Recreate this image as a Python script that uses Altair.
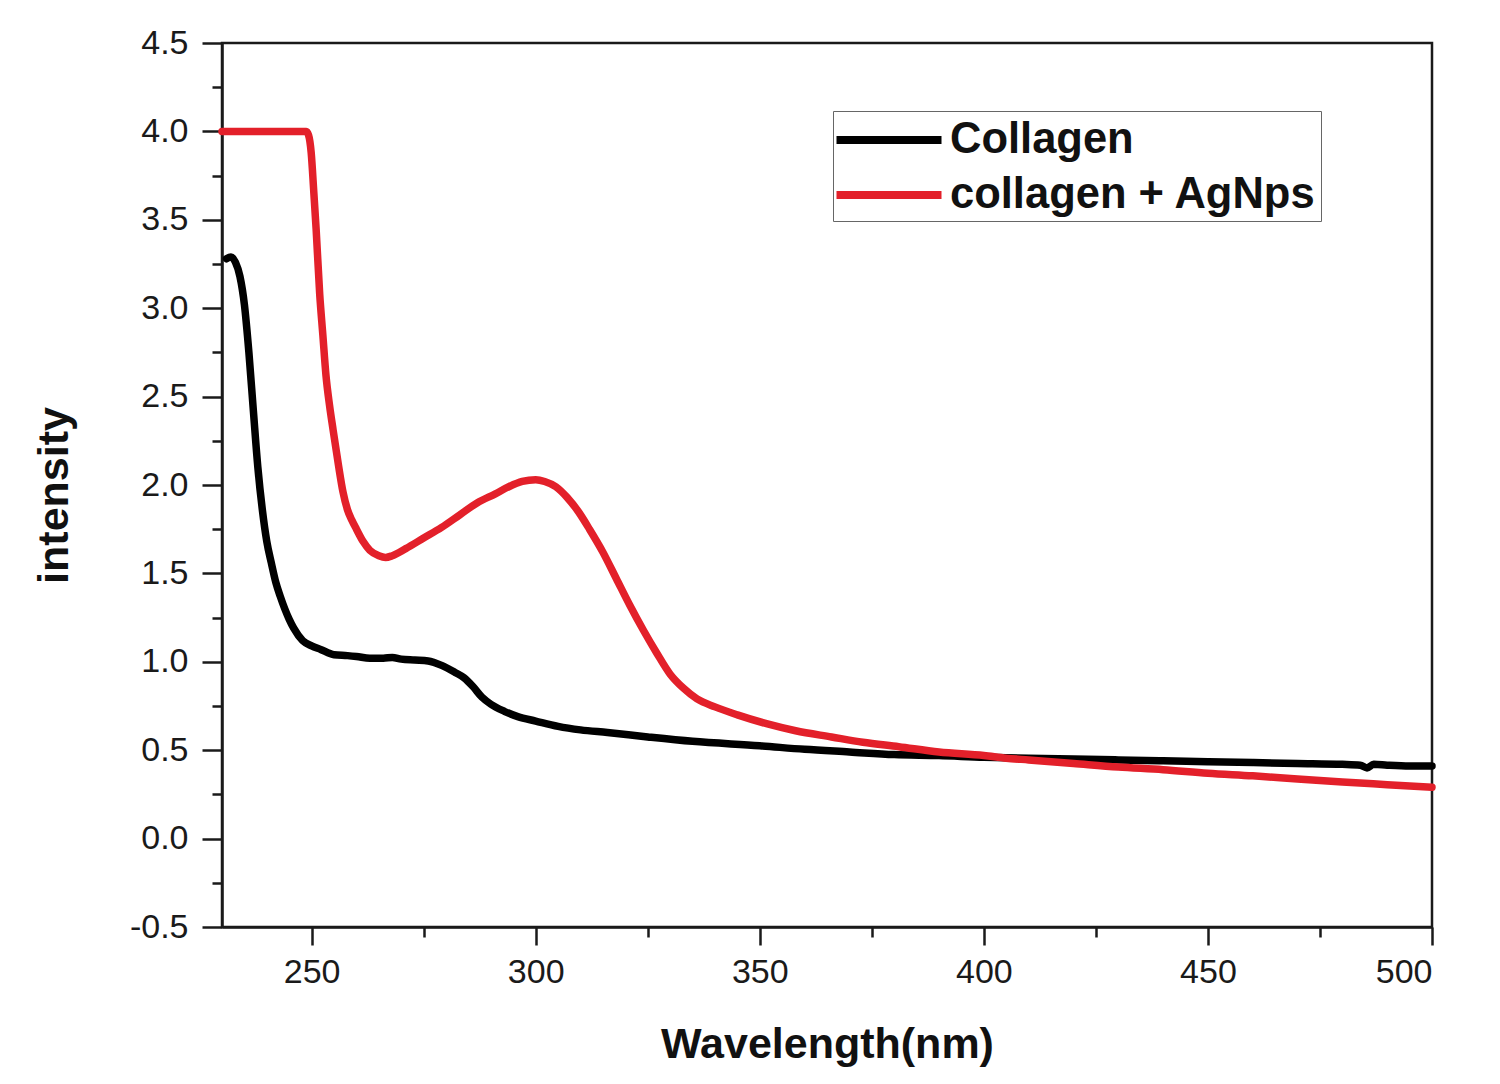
import altair as alt
import pandas as pd

# Collagen (black)
collagen_nm = [231, 232, 233, 234, 235, 236, 237, 238, 239, 240, 241, 242, 243, 244, 245, 246, 248, 250,
               252, 255, 258, 260, 263, 266, 268, 270, 273, 276, 279, 282, 284, 286, 288, 290, 293, 296,
               300, 305, 310, 316, 325, 335, 350, 360, 370, 380, 390, 400, 405, 410, 420, 430, 440, 450,
               460, 470, 480, 484, 485.5, 487, 490, 495, 500]
collagen_val = [3.28, 3.29, 3.26, 3.18, 3.02, 2.75, 2.42, 2.10, 1.86, 1.68, 1.56, 1.45, 1.37, 1.30, 1.24, 1.19,
                1.12, 1.09, 1.07, 1.04, 1.035, 1.03, 1.02, 1.02, 1.025, 1.015, 1.01, 1.005, 0.98, 0.94, 0.91,
                0.86, 0.80, 0.76, 0.72, 0.69, 0.665, 0.635, 0.615, 0.60, 0.575, 0.55, 0.525, 0.505, 0.49,
                0.475, 0.47, 0.46, 0.457, 0.455, 0.45, 0.445, 0.44, 0.435, 0.43, 0.425, 0.42, 0.415, 0.40,
                0.42, 0.415, 0.41, 0.41]

# collagen + AgNps (red)
agnp_nm = [230, 240, 248.8, 249.3, 249.9, 250.5, 251, 251.8, 252.5, 253.2, 254, 254.8, 256, 257, 258, 259,
           260, 261.5, 263, 265, 266.5, 268, 271, 275, 279, 283, 287, 291, 294, 297, 300, 302, 304.5, 307,
           309.5, 312, 315, 318, 321, 324, 327, 330, 333, 336, 340, 345, 351.5, 358, 366, 373, 381, 390, 400,
           405, 410, 420, 430, 440, 450, 460, 470, 480, 490, 500]
agnp_val = [4.0, 4.0, 4.0, 3.98, 3.88, 3.65, 3.45, 3.08, 2.85, 2.62, 2.45, 2.31, 2.11, 1.96, 1.86, 1.80,
            1.75, 1.68, 1.63, 1.60, 1.59, 1.60, 1.64, 1.70, 1.76, 1.83, 1.90, 1.95, 1.99, 2.02, 2.03, 2.02,
            1.99, 1.93, 1.85, 1.75, 1.62, 1.47, 1.32, 1.18, 1.05, 0.93, 0.85, 0.79, 0.745, 0.70, 0.65, 0.61,
            0.575, 0.545, 0.52, 0.49, 0.47, 0.455, 0.445, 0.425, 0.405, 0.39, 0.37, 0.355, 0.337, 0.32,
            0.305, 0.29]

series_names = ["Collagen", "collagen + AgNps"]
series_colors = ["#000000", "#E3202A"]

x_ticks = [250, 275, 300, 325, 350, 375, 400, 425, 450, 475, 500]
y_ticks = [-0.5, -0.25, 0.0, 0.25, 0.5, 0.75, 1.0, 1.25, 1.5, 1.75, 2.0, 2.25, 2.5, 2.75,
           3.0, 3.25, 3.5, 3.75, 4.0, 4.25, 4.5]

df = pd.concat([
    pd.DataFrame({"wl": collagen_nm, "val": collagen_val, "series": series_names[0], "order": range(len(collagen_nm))}),
    pd.DataFrame({"wl": agnp_nm, "val": agnp_val, "series": series_names[1], "order": range(len(agnp_nm))}),
])

FONT = "Liberation Sans"

chart = alt.Chart(df).mark_line(strokeWidth=7.5, strokeJoin="round", strokeCap="round",
                                interpolate="monotone").encode(
    x=alt.X("wl:Q", scale=alt.Scale(domain=[230, 500], nice=False, zero=False),
            axis=alt.Axis(title="Wavelength(nm)", values=x_ticks, grid=False,
                          labelExpr="datum.value % 50 === 0 ? datum.label : ''",
                          labelOverlap=False, labelFontSize=34, labelFont=FONT, labelColor="#1a1a1a",
                          labelPadding=10,
                          tickSize={"condition": {"test": "datum.value % 50 !== 0", "value": 10}, "value": 18},
                          tickWidth=2.5, tickColor="#1a1a1a", domainWidth=2.5, domainColor="#1a1a1a",
                          titleFontSize=43, titleFont=FONT, titleFontWeight="bold", titleColor="#111",
                          titlePadding=34)),
    y=alt.Y("val:Q", scale=alt.Scale(domain=[-0.5, 4.5], nice=False, zero=False),
            axis=alt.Axis(title="intensity", values=y_ticks, grid=False,
                          labelExpr="datum.value % 0.5 === 0 ? (datum.value < 0 ? '-' + format(-datum.value, '.1f') : format(datum.value, '.1f')) : ''",
                          labelOverlap=False, labelFontSize=34, labelFont=FONT, labelColor="#1a1a1a",
                          labelPadding=14,
                          tickSize={"condition": {"test": "datum.value % 0.5 !== 0", "value": 10}, "value": 20},
                          tickWidth=2.5, tickColor="#1a1a1a", domainWidth=2.5, domainColor="#1a1a1a",
                          titleFontSize=43, titleFont=FONT, titleFontWeight="bold", titleColor="#111",
                          titlePadding=53, titleY=452)),
    color=alt.Color("series:N", scale=alt.Scale(domain=series_names, range=series_colors),
                    legend=alt.Legend(orient="none", legendX=611, legendY=68, title=None,
                                      strokeColor="#666", fillColor="white", padding=4,
                                      symbolType="M-2.5,0H2.5", symbolSize=1764, symbolStrokeWidth=8,
                                      symbolOffset=27,
                                      labelFontSize=43.5, labelFont=FONT, labelFontWeight="bold",
                                      labelColor="#111", labelOffset=36, rowPadding=8, labelLimit=600)),
    order="order:Q",
).properties(
    width=1210, height=884,
    autosize=alt.AutoSizeParams(type="none"),
    padding={"left": 214, "top": 35, "right": 50, "bottom": 140},
).configure_view(stroke="#1a1a1a", strokeWidth=2.5)

chart.save("out.html", embed_options={"renderer": "svg", "actions": False})
